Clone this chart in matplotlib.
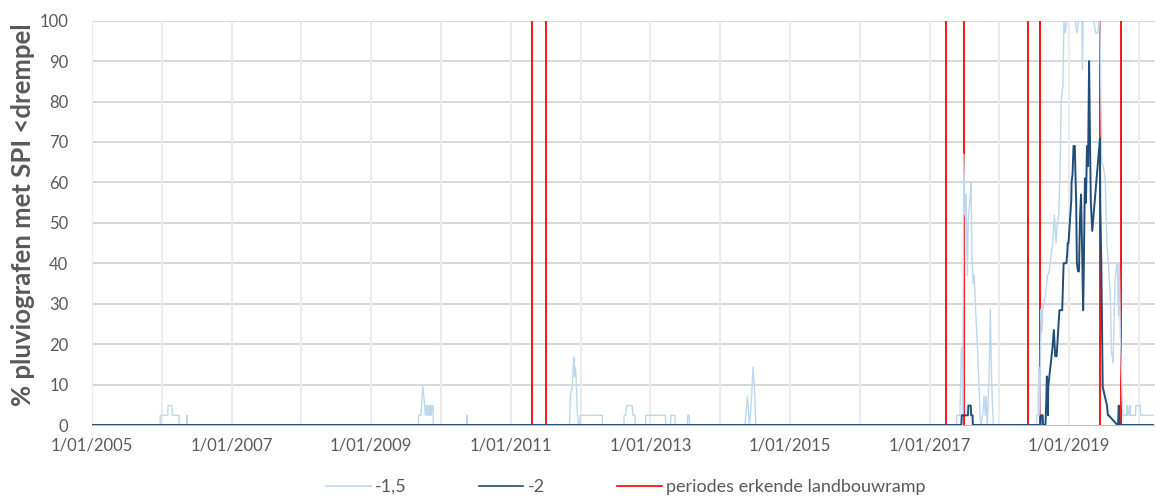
import matplotlib
matplotlib.use("Agg")
import matplotlib.pyplot as plt
from matplotlib.lines import Line2D

plt.rcParams['font.family'] = ['Lato', 'DejaVu Sans']

# ---- data (decimal years, % of rain gauges) ----
spi15_x = [2005.0, 2005.975, 2005.98, 2006.085, 2006.09, 2006.145, 2006.15, 2006.245, 2006.25,
           2006.355, 2006.36, 2006.37,
           2009.675, 2009.68, 2009.71, 2009.74, 2009.765, 2009.775, 2009.79, 2009.80, 2009.81,
           2009.82, 2009.83, 2009.84, 2009.85, 2009.86, 2009.87, 2009.885, 2009.89,
           2010.365, 2010.37, 2010.38,
           2011.84, 2011.855, 2011.88, 2011.895, 2011.905, 2011.915, 2011.925, 2011.935,
           2011.955, 2011.975, 2011.99, 2011.992, 2012.31, 2012.315,
           2012.62, 2012.625, 2012.645, 2012.66, 2012.74, 2012.75, 2012.78, 2012.785,
           2012.93, 2012.935, 2013.215, 2013.22,
           2013.29, 2013.295, 2013.35, 2013.355,
           2013.53, 2013.535, 2013.555, 2013.56,
           2014.355, 2014.39, 2014.42, 2014.45, 2014.47, 2014.48, 2014.49, 2014.51,
           2017.385, 2017.39, 2017.435, 2017.455, 2017.47, 2017.475, 2017.49, 2017.507,
           2017.521, 2017.54, 2017.554, 2017.579, 2017.593, 2017.607, 2017.626, 2017.64,
           2017.66, 2017.689, 2017.708, 2017.722, 2017.736, 2017.76, 2017.779, 2017.798,
           2017.808, 2017.827, 2017.856, 2017.87, 2017.89, 2017.913,
           2018.53, 2018.535, 2018.555, 2018.565, 2018.58, 2018.597, 2018.61, 2018.62,
           2018.645, 2018.667, 2018.69, 2018.715, 2018.74, 2018.764, 2018.788, 2018.81,
           2018.825, 2018.85, 2018.87, 2018.885, 2018.91, 2018.925, 2018.945, 2018.965,
           2019.09, 2019.11, 2019.135, 2019.18, 2019.19, 2019.2, 2019.35, 2019.38, 2019.41,
           2019.425, 2019.44, 2019.465, 2019.49, 2019.515, 2019.54, 2019.565, 2019.59,
           2019.605, 2019.63, 2019.655, 2019.675, 2019.69, 2019.705, 2019.718, 2019.733,
           2019.757, 2019.77, 2019.82, 2019.825, 2019.83, 2019.835, 2019.86, 2019.865,
           2019.87, 2019.875, 2019.95, 2019.955, 2020.02, 2020.025, 2020.2]
spi15_y = [0, 0, 2.4, 2.4, 4.8, 4.8, 2.4, 2.4, 0,
           0, 2.4, 0,
           0, 2.4, 2.4, 9.5, 4.8, 2.4, 4.8, 2.4, 4.8,
           2.4, 4.8, 2.4, 4.8, 2.4, 4.8, 4.8, 0,
           0, 2.4, 0,
           0, 7.1, 9.5, 14.3, 16.7, 11.9, 14.3, 11.9,
           2.4, 0, 0, 2.4, 2.4, 0,
           0, 2.4, 2.4, 4.8, 4.8, 2.4, 2.4, 0,
           0, 2.4, 2.4, 0,
           0, 2.4, 2.4, 0,
           0, 2.4, 2.4, 0,
           0, 7.1, 0, 7.1, 14.3, 11.9, 9.5, 0,
           0, 2.4, 2.4, 19, 19, 2.4, 67, 52,
           57, 37, 51, 56, 60, 41, 35, 37,
           28, 18, 10, 2.4, 0, 2.4, 7.1, 2.4,
           7.1, 0, 14.3, 28.6, 10, 0,
           0, 2.4, 2.4, 14.3, 2.4, 28.6, 23, 28.6,
           31, 33, 37, 38, 42, 45, 52, 45,
           49, 52, 64, 80, 84, 100, 97, 100,
           100, 97, 100, 100, 88, 100, 100, 97, 97,
           100, 100, 65, 64, 61, 45, 39, 31,
           18.5, 15.3, 35, 39, 40, 27, 40, 22.7,
           7.1, 2.4, 2.4, 4.8, 2.4, 4.8, 2.4, 2.4,
           4.8, 2.4, 2.4, 4.8, 4.8, 2.4, 2.4]

spi2_x = [2005.0, 2017.455, 2017.46, 2017.55, 2017.555, 2017.59, 2017.595, 2017.615, 2017.62,
          2018.59, 2018.595, 2018.62, 2018.625, 2018.66, 2018.672, 2018.68, 2018.69, 2018.696,
          2018.7, 2018.73, 2018.76, 2018.78, 2018.8, 2018.81, 2018.82, 2018.86, 2018.87,
          2018.9, 2018.92, 2018.96, 2018.97, 2018.98, 2018.99, 2019.03, 2019.034, 2019.048,
          2019.062, 2019.08, 2019.1, 2019.11, 2019.125, 2019.14, 2019.155, 2019.17, 2019.185,
          2019.2, 2019.21, 2019.225, 2019.24, 2019.255, 2019.27, 2019.285, 2019.297, 2019.31,
          2019.33, 2019.441, 2019.445, 2019.46, 2019.48, 2019.51, 2019.54, 2019.555, 2019.565,
          2019.69, 2019.7, 2019.71, 2019.72, 2020.2]
spi2_y = [0, 0, 2.4, 2.4, 4.8, 4.8, 2.4, 2.4, 0,
          0, 2.4, 2.4, 0, 0, 6, 12, 9.5, 2.4,
          9.5, 14.3, 19, 23.5, 17, 17, 17, 28.4, 28.4,
          28.4, 40, 40, 42, 45, 45, 55.6, 60, 62,
          69, 69, 55, 40, 38, 38, 51.5, 57, 43,
          28.4, 40, 61, 55, 69, 64, 90, 72, 55,
          48, 71, 55, 40, 9.5, 7.1, 5, 2.4, 2.4, 0,
          0, 4.8, 0, 0]

disaster_dates = [2011.31, 2011.50, 2017.238, 2017.487, 2018.413, 2018.585, 2019.445, 2019.742]

tick_years = [2005, 2007, 2009, 2011, 2013, 2015, 2017, 2019]
tick_labels = ["1/01/%d" % y for y in tick_years]
grid_years = list(range(2005, 2021))

# ---- figure ----
W, H = 1155, 496
fig = plt.figure(figsize=(W / 100, H / 100), dpi=100)
ax = fig.add_axes([92 / W, 1 - 425 / H, (W - 92) / W, (425 - 20.7) / H])

txt = '#595959'
for y in range(10, 101, 10):
    ax.axhline(y, color='#D4D4D4', lw=1.3, zorder=0)
for g in grid_years:
    ax.axvline(g, color='#EBEBEB', lw=1.5, zorder=0)

for d in disaster_dates:
    ax.axvline(d, color='#FF0000', lw=1.3, zorder=1)

ax.plot(spi15_x, spi15_y, color='#BDD7EE', lw=1.0, zorder=2)
ax.plot(spi2_x, spi2_y, color='#1F4E79', lw=1.4, zorder=3)

ax.set_xlim(2005.0, 2005 + (W - 92) / 69.8)
ax.set_ylim(0, 100)
ax.set_yticks(range(0, 101, 10))
ax.set_xticks(tick_years)
ax.set_xticklabels(tick_labels)
ax.tick_params(axis='both', length=0, labelsize=12, colors=txt)
ax.tick_params(axis='y', pad=17)
ax.tick_params(axis='x', pad=9)
for s in ['top', 'right', 'left']:
    ax.spines[s].set_visible(False)
ax.spines['bottom'].set_color('#BFBFBF')

fig.text(23 / W, 1 - 215 / H, '% pluviografen met SPI <drempel', rotation=90,
         ha='center', va='center', fontsize=18.5, fontweight='bold', color=txt)

handles = [Line2D([], [], color='#BDD7EE', lw=1.2),
           Line2D([], [], color='#1F4E79', lw=1.2),
           Line2D([], [], color='#FF0000', lw=1.2)]
labels = ['-1,5', '-2', 'periodes erkende landbouwramp']
fig.legend(handles, labels, loc='center', bbox_to_anchor=(626 / W, 1 - 487 / H), ncol=3,
           frameon=False, fontsize=13, labelcolor=txt, handlelength=2.45,
           handletextpad=0.25, columnspacing=4.0)

fig.savefig('out.png', dpi=100)
